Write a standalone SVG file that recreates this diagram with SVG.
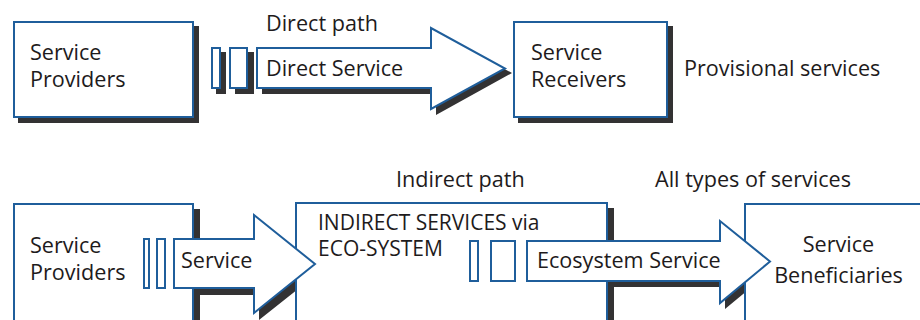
<svg xmlns="http://www.w3.org/2000/svg" width="920" height="320" viewBox="0 0 920 320">
  <style>
    .box { fill: #ffffff; stroke: #1f5e9b; stroke-width: 2; }
    .shadow { fill: #333233; }
    .arrow { fill: #ffffff; stroke: #1f5e9b; stroke-width: 2; stroke-linejoin: miter; }
    .lbl { font-family: "Open Sans", "Noto Sans", "Liberation Sans", sans-serif; font-size: 21.6px; fill: #1e1b1c; }
    .tight { font-size: 21px; }
    .mid { text-anchor: middle; }
  </style>
  <rect width="920" height="320" fill="#ffffff"/>

  <!-- drop shadows, drawn beneath everything -->
  <g id="shadows">
    <rect class="shadow" x="18" y="26" width="181" height="97"/>
    <rect class="shadow" x="518" y="26" width="155" height="97"/>
    <rect class="shadow" x="216" y="52" width="10" height="42"/>
    <rect class="shadow" x="235" y="52" width="19" height="42"/>
    <polygon class="shadow" points="262,52 436,52 436,32 512,73 436,115 436,94 262,94"/>

    <rect class="shadow" x="19" y="209" width="181" height="130"/>
    <rect class="shadow" x="301" y="208" width="313" height="130"/>
    <polygon class="shadow" points="179,244 259,244 259,220 322,270 259,320 259,295 179,295"/>
    <polygon class="shadow" points="532,245 725,245 725,225 777,266 725,309 725,287 532,287"/>
  </g>

  <!-- nodes -->
  <g id="providers-top">
    <rect class="box" x="14" y="22" width="179" height="95"/>
    <text class="lbl" x="30" y="60">Service</text>
    <text class="lbl" x="30" y="87">Providers</text>
  </g>
  <g id="receivers">
    <rect class="box" x="514" y="22" width="153" height="95"/>
    <text class="lbl" x="531" y="60">Service</text>
    <text class="lbl" x="531" y="87">Receivers</text>
  </g>
  <g id="providers-bottom">
    <rect class="box" x="14" y="204" width="179" height="130"/>
    <text class="lbl" x="30" y="253">Service</text>
    <text class="lbl" x="30" y="280">Providers</text>
  </g>
  <g id="ecosystem">
    <rect class="box" x="296" y="203" width="311" height="130"/>
    <text class="lbl tight" x="318" y="229.5">INDIRECT SERVICES via</text>
    <text class="lbl tight" x="318" y="255.5">ECO-SYSTEM</text>
  </g>
  <g id="beneficiaries">
    <rect class="box" x="745" y="204" width="200" height="130"/>
    <text class="lbl mid" x="838.5" y="252">Service</text>
    <text class="lbl mid" x="838.5" y="283">Beneficiaries</text>
  </g>

  <!-- connectors: block arrows with their trailing bars and labels -->
  <g id="connectors">
    <g id="direct-arrow">
      <rect class="box" x="212" y="48" width="8" height="40"/>
      <rect class="box" x="230" y="48" width="17" height="40"/>
      <polygon class="arrow" points="257,48 431,48 431,28 505,68.5 431,109 431,88 257,88"/>
      <text class="lbl" x="266" y="76">Direct Service</text>
      <text class="lbl" x="266" y="31">Direct path</text>
    </g>
    <g id="service-arrow">
      <rect class="box" x="144" y="239" width="5" height="49"/>
      <rect class="box" x="157" y="239" width="8" height="49"/>
      <polygon class="arrow" points="174,239 254,239 254,215 315,264 254,313 254,288 174,288"/>
      <text class="lbl" x="181" y="268">Service</text>
    </g>
    <g id="ecosystem-arrow">
      <rect class="box" x="470" y="241" width="8" height="40"/>
      <rect class="box" x="491" y="241" width="24" height="40"/>
      <polygon class="arrow" points="527,241 720,241 720,221 770,261.5 720,303 720,281 527,281"/>
      <text class="lbl" x="537" y="268">Ecosystem Service</text>
    </g>
  </g>

  <!-- free labels -->
  <g id="captions">
    <text class="lbl" x="684" y="76">Provisional services</text>
    <text class="lbl" x="396" y="187">Indirect path</text>
    <text class="lbl" x="655" y="187">All types of services</text>
  </g>
</svg>
